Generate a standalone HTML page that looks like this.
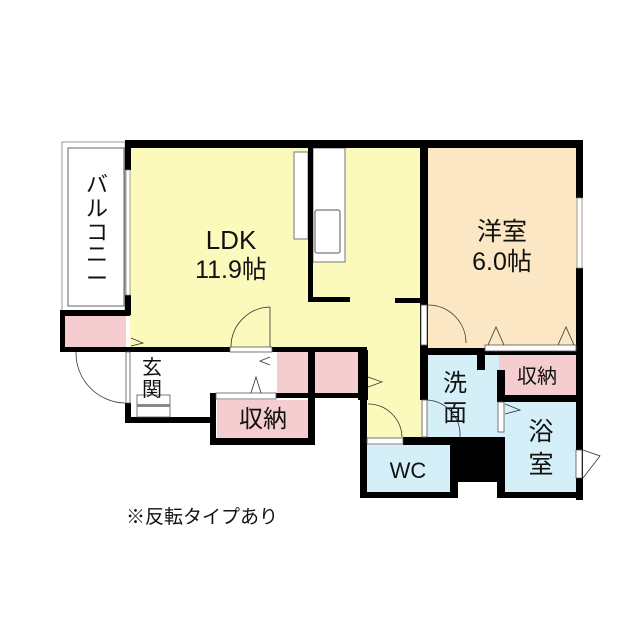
<!DOCTYPE html>
<html><head><meta charset="utf-8"><style>
html,body{margin:0;padding:0;background:#fff;width:640px;height:640px;overflow:hidden}
text{font-family:"Liberation Sans","Noto Sans CJK JP",sans-serif;fill:#111}
</style></head><body>
<svg width="640" height="640" viewBox="0 0 640 640" xmlns="http://www.w3.org/2000/svg">
<rect x="62" y="142" width="63" height="170" fill="#fff" stroke="#999" stroke-width="1"/>
<rect x="68" y="148" width="56" height="158" fill="#fff" stroke="#666" stroke-width="1"/>
<rect x="130" y="148" width="292" height="201" fill="#FCF9BC"/>
<rect x="366" y="340" width="56" height="98" fill="#FCF9BC"/>
<rect x="428" y="148" width="150" height="200" fill="#FBE7C4"/>
<rect x="64" y="316" width="62" height="32" fill="#F5CCCF"/>
<rect x="217" y="400" width="92" height="38" fill="#F5CCCF"/>
<rect x="277" y="352" width="31" height="41" fill="#F5CCCF"/>
<rect x="315" y="352" width="43" height="41" fill="#F5CCCF"/>
<rect x="485" y="355" width="91" height="40" fill="#F5CCCF"/>
<rect x="427" y="353" width="72" height="84" fill="#D5EFF8"/>
<rect x="497" y="370" width="8" height="67" fill="#D5EFF8"/>
<rect x="505" y="402" width="71" height="90" fill="#D5EFF8"/>
<rect x="367" y="445" width="85" height="47" fill="#D5EFF8"/>
<rect x="294" y="152" width="14" height="87" fill="#fff" stroke="#777"/>
<rect x="313" y="148" width="32" height="114" fill="#fff" stroke="#777"/>
<rect x="315" y="210" width="25" height="43" fill="#fff" stroke="#555" rx="2"/>
<g fill="#000">
<rect x="125" y="140" width="458" height="8"/>
<rect x="125" y="140" width="6" height="30"/>
<rect x="125" y="295" width="6" height="20"/>
<rect x="576" y="140" width="7" height="58"/>
<rect x="576" y="268" width="7" height="232"/>
<rect x="420" y="140" width="8" height="178"/>
<rect x="308" y="148" width="5" height="154"/>
<rect x="308" y="297" width="42" height="5"/>
<rect x="395" y="298" width="27" height="5"/>
<rect x="60" y="310" width="70" height="6"/>
<rect x="60" y="310" width="5" height="42"/>
<rect x="60" y="347" width="170" height="5"/>
<rect x="272" y="347" width="95" height="5"/>
<rect x="125" y="403" width="6" height="20"/>
<rect x="125" y="417" width="90" height="6"/>
<rect x="210" y="393" width="6" height="52"/>
<rect x="210" y="393" width="157" height="5"/>
<rect x="210" y="438" width="105" height="7"/>
<rect x="308" y="352" width="7" height="93"/>
<rect x="358" y="350" width="10" height="50"/>
<rect x="360" y="398" width="7" height="100"/>
<rect x="360" y="492" width="98" height="6"/>
<rect x="497" y="492" width="86" height="6"/>
<rect x="420" y="348" width="162" height="7"/>
<rect x="420" y="318" width="8" height="82"/>
<rect x="477" y="348" width="8" height="22"/>
<rect x="497" y="370" width="8" height="32"/>
<rect x="497" y="395" width="85" height="7"/>
<rect x="403" y="437" width="102" height="8"/>
<rect x="450" y="437" width="55" height="45"/>
<rect x="450" y="437" width="8" height="61"/>
<rect x="497" y="437" width="8" height="61"/>
</g>
<rect x="126" y="170" width="4" height="125" fill="#fff" stroke="#888" stroke-width="0.8"/>
<rect x="577" y="198" width="5" height="70" fill="#fff" stroke="#888" stroke-width="0.8"/>
<rect x="230" y="347" width="42" height="5" fill="#fff" stroke="#555" stroke-width="0.8"/>
<path d="M270 307 A40 40 0 0 0 231 347 M270 307 V347" fill="none" stroke="#333" stroke-width="0.8"/>
<rect x="126" y="352" width="4" height="51" fill="#fff" stroke="#555" stroke-width="0.8"/>
<path d="M125 403 A50 50 0 0 1 76 352" fill="none" stroke="#333" stroke-width="0.8"/>
<rect x="422" y="400" width="5" height="37" fill="#fff" stroke="#555" stroke-width="0.8"/>
<path d="M427 400 A35 35 0 0 1 460 437" fill="none" stroke="#333" stroke-width="0.8"/>
<rect x="367" y="438" width="36" height="6" fill="#fff" stroke="#555" stroke-width="0.8"/>
<path d="M368 404 A34 34 0 0 1 402 437" fill="none" stroke="#333" stroke-width="0.8"/>
<path d="M428 305 A38 38 0 0 1 466 343" fill="none" stroke="#333" stroke-width="0.8"/>
<rect x="421" y="305" width="6" height="40" fill="#fff" stroke="#555" stroke-width="0.8"/>
<rect x="485" y="345" width="91" height="6" fill="#fff" stroke="#555" stroke-width="0.8"/>
<path d="M488 345 L496 327 L504 345 M558 345 L566 327 L574 345" fill="none" stroke="#333" stroke-width="0.8"/>
<rect x="498" y="402" width="6" height="30" fill="#fff" stroke="#555" stroke-width="0.8"/>
<path d="M505 404 L520 410 L505 414" fill="none" stroke="#333" stroke-width="0.8"/>
<rect x="576" y="450" width="6" height="28" fill="#fff" stroke="#555" stroke-width="0.8"/>
<path d="M583 450 L600 456 L583 478" fill="none" stroke="#333" stroke-width="0.8"/>
<path d="M131 338 L143 343 L131 346 M270 357 L260 361 L270 365 M251 393 L256 377 L261 393 M368 377 L382 382 L368 387" fill="none" stroke="#333" stroke-width="0.8"/>
<rect x="137" y="395" width="33" height="22" fill="#fff" stroke="#555" stroke-width="0.8"/>
<rect x="137" y="404" width="33" height="3" fill="#888"/>
<rect x="216" y="393" width="60" height="6" fill="#fff" stroke="#555" stroke-width="0.8"/>
<text x="231" y="249" font-size="26" text-anchor="middle">LDK</text>
<text x="231" y="278" font-size="25" text-anchor="middle">11.9帖</text>
<text x="502" y="240" font-size="25" text-anchor="middle">洋室</text>
<text x="502" y="270" font-size="25" text-anchor="middle">6.0帖</text>
<text x="97" y="192" font-size="22" text-anchor="middle">バ</text>
<text x="97" y="216" font-size="22" text-anchor="middle">ル</text>
<text x="97" y="240" font-size="22" text-anchor="middle">コ</text>
<text x="97" y="262" font-size="22" text-anchor="middle">ニ</text>
<text x="97" y="286" font-size="22" text-anchor="middle">ー</text>
<text x="152" y="374" font-size="20" text-anchor="middle">玄</text>
<text x="152" y="396" font-size="20" text-anchor="middle">関</text>
<text x="263" y="427" font-size="24" text-anchor="middle">収納</text>
<text x="537" y="383" font-size="20" text-anchor="middle">収納</text>
<text x="455" y="391" font-size="24" text-anchor="middle">洗</text>
<text x="455" y="421" font-size="24" text-anchor="middle">面</text>
<text x="541" y="440" font-size="25" text-anchor="middle">浴</text>
<text x="541" y="473" font-size="25" text-anchor="middle">室</text>
<text x="408" y="478" font-size="22" text-anchor="middle">WC</text>
<text x="126" y="523" font-size="19">※反転タイプあり</text>
</svg>
</body></html>
